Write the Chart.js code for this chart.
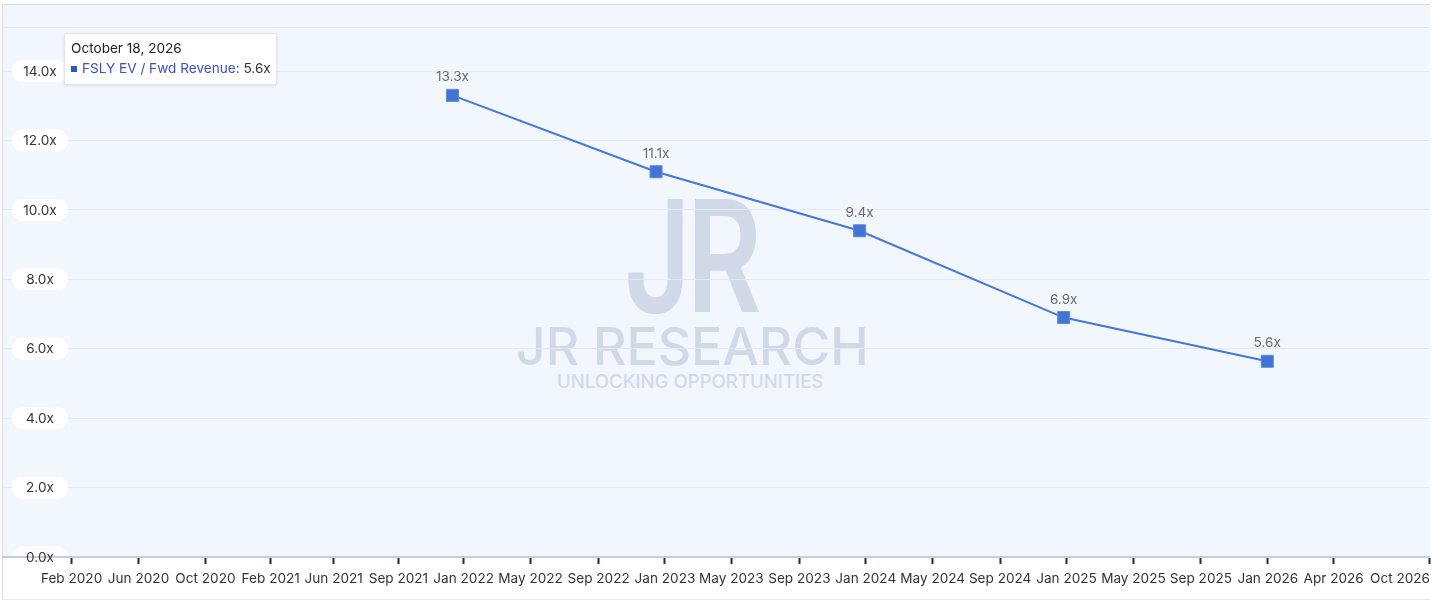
<!DOCTYPE html>
<html>
<head>
<meta charset="utf-8">
<script src="https://cdn.jsdelivr.net/npm/chart.js@4.4.1/dist/chart.umd.min.js"></script>
<style>
  html, body { margin:0; padding:0; background:#ffffff; }
  #wrap { position:relative; width:1436px; height:603px; overflow:hidden; font-family:Inter, "Noto Sans", sans-serif; }
  #frame { position:absolute; left:2px; top:4px; width:1428px; height:596px; border-top:1px solid #d9d9d9; border-left:1px solid #dedede; border-bottom:1px solid #e6e6e6; box-sizing:border-box; }
  #plotbg { position:absolute; left:3px; top:5px; width:1427px; height:551px; background:#f2f6fd; }
  #wm { position:absolute; left:0; top:0; width:1436px; height:603px; color:#d1d9e9; pointer-events:none; }
  #wm .logo { position:absolute; left:624px; top:178px; font-family:Inter, sans-serif; font-weight:600; font-size:156px; line-height:1; transform:scaleX(0.74); transform-origin:0 0; letter-spacing:-6px; }
  #wm .name { position:absolute; left:516px; top:321px; font-family:Inter, sans-serif; font-weight:500; font-size:51.7px; line-height:1; white-space:nowrap; }
  #wm .tag { position:absolute; left:557px; top:372px; font-family:Inter, sans-serif; font-weight:500; font-size:18.6px; line-height:1; white-space:nowrap; }
  canvas { position:absolute; left:0; top:0; }
  #tip { position:absolute; left:64px; top:33px; width:213px; height:52px; box-sizing:border-box; background:#ffffff; border:1px solid #e2e4ea; box-shadow:0 1px 3px rgba(0,0,0,0.10); border-radius:2px; font-size:13.6px; }
  #tip .t { position:absolute; left:6px; top:6px; color:#222; white-space:nowrap; }
  #tip .b { position:absolute; left:6px; top:26px; white-space:nowrap; color:#3e4fc4; }
  #tip .m { display:inline-block; width:6px; height:6px; background:#2357d4; margin-right:5px; vertical-align:1px; }
  #tip .v { color:#333; }
</style>
</head>
<body>
<div id="wrap">
  <div id="frame"></div>
  <div id="plotbg"></div>
  <div id="wm">
    <div class="logo">JR</div>
    <div class="name">JR RESEARCH</div>
    <div class="tag">UNLOCKING OPPORTUNITIES</div>
  </div>
  <canvas id="c" width="1436" height="603"></canvas>
  <div id="tip"><div class="t" id="tipTitle"></div><div class="b"><span class="m"></span><span id="tipName"></span> <span class="v" id="tipVal"></span></div></div>
</div>
<script>
// ---- data ----
const seriesName = 'FSLY EV / Fwd Revenue';
const pointDates = ['2022-01-01', '2023-01-01', '2024-01-01', '2025-01-01', '2026-01-01'];
const evFwdRevenue = [13.3, 11.1, 9.4, 6.9, 5.64];
const xTickDates = ['2020-02-18','2020-06-17','2020-10-15','2021-02-09','2021-06-02','2021-09-26','2022-01-21','2022-05-21','2022-09-20','2023-01-17','2023-05-16','2023-09-15','2024-01-12','2024-05-11','2024-09-09','2025-01-06','2025-05-06','2025-09-04','2026-01-02','2026-04-30','2026-10-18'];
const xTickLabels = ['Feb 2020','Jun 2020','Oct 2020','Feb 2021','Jun 2021','Sep 2021','Jan 2022','May 2022','Sep 2022','Jan 2023','May 2023','Sep 2023','Jan 2024','May 2024','Sep 2024','Jan 2025','May 2025','Sep 2025','Jan 2026','Apr 2026','Oct 2026'];
const xRange = ['2019-10-18', '2026-10-18'];
const yTickValues = [0, 2, 4, 6, 8, 10, 12, 14];
const yMax = 15.27;
const tooltipTitle = 'October 18, 2026';

const dayNum = s => Date.parse(s + 'T00:00:00Z') / 864e5;
const fmtX = v => v.toFixed(1) + 'x';

document.getElementById('tipTitle').textContent = tooltipTitle;
document.getElementById('tipName').textContent = seriesName + ':';
document.getElementById('tipVal').textContent = fmtX(evFwdRevenue[evFwdRevenue.length - 1]);

const FONT = 'Inter, "Noto Sans", sans-serif';
const FSIZE = 13.6;

const yPills = {
  id: 'yPills',
  beforeDatasetsDraw(chart) {
    const y = chart.scales.y, ctx = chart.ctx;
    ctx.save();
    yTickValues.forEach(v => {
      const py = y.getPixelForValue(v);
      ctx.fillStyle = v === 0 ? 'rgba(255,255,255,0.8)' : 'rgba(255,255,255,0.95)';
      ctx.beginPath();
      ctx.roundRect(12, py - 11, 56, 22, 11);
      ctx.fill();
    });
    ctx.restore();
  },
  afterDraw(chart) {
    const y = chart.scales.y, ctx = chart.ctx;
    ctx.save();
    ctx.font = FSIZE + 'px ' + FONT;
    ctx.textAlign = 'center';
    ctx.textBaseline = 'middle';
    ctx.fillStyle = '#333333';
    yTickValues.forEach(v => {
      ctx.fillText(fmtX(v), 40, y.getPixelForValue(v) + 0.5);
    });
    ctx.restore();
  }
};

const dataLabels = {
  id: 'dataLabels',
  afterDatasetsDraw(chart) {
    const ctx = chart.ctx, meta = chart.getDatasetMeta(0);
    ctx.save();
    ctx.font = FSIZE + 'px ' + FONT;
    ctx.fillStyle = '#6b6b6b';
    ctx.textAlign = 'center';
    ctx.textBaseline = 'middle';
    meta.data.forEach((pt, i) => {
      ctx.fillText(fmtX(evFwdRevenue[i]), pt.x, pt.y - 18);
    });
    ctx.restore();
  },
  afterDraw(chart) {
    const x = chart.scales.x, ctx = chart.ctx;
    const last = xTickDates.length - 1;
    ctx.save();
    ctx.font = FSIZE + 'px ' + FONT;
    ctx.fillStyle = '#333333';
    ctx.textAlign = 'right';
    ctx.textBaseline = 'middle';
    ctx.fillText(xTickLabels[last], x.getPixelForValue(dayNum(xTickDates[last])) + 1, x.top + 7 + 7 + FSIZE * 1.2 / 2);
    ctx.restore();
  }
};

new Chart(document.getElementById('c'), {
  type: 'line',
  data: {
    datasets: [{
      label: seriesName,
      data: pointDates.map((d, i) => ({ x: dayNum(d), y: evFwdRevenue[i] })),
      borderColor: '#4677d6',
      borderWidth: 2,
      tension: 0,
      pointStyle: 'rect',
      pointRadius: 8.5,
      pointBackgroundColor: '#4274d4',
      pointBorderColor: '#6189dc',
      pointBorderWidth: 1,
      fill: false
    }]
  },
  options: {
    responsive: false,
    animation: false,
    devicePixelRatio: 1,
    events: [],
    layout: { autoPadding: false, padding: { left: 3, right: 7, top: 27, bottom: 8.6 } },
    plugins: { legend: { display: false }, tooltip: { enabled: false } },
    scales: {
      x: {
        type: 'linear',
        min: dayNum(xRange[0]),
        max: dayNum(xRange[1]),
        afterBuildTicks: s => { s.ticks = xTickDates.map(d => ({ value: dayNum(d) })); },
        ticks: {
          autoSkip: false, maxRotation: 0, padding: 7,
          font: { family: FONT, size: FSIZE }, color: '#333333',
          callback: (v, i) => (i < xTickLabels.length - 1 ? xTickLabels[i] : '')
        },
        grid: { drawOnChartArea: false, drawTicks: true, tickLength: 7, tickColor: '#1f2b48', tickWidth: 2 },
        border: { display: true, color: '#c8ccd8', width: 2, z: 1 }
      },
      y: {
        type: 'linear',
        min: 0,
        max: yMax,
        afterBuildTicks: s => { s.ticks = yTickValues.concat([yMax]).map(v => ({ value: v })); },
        ticks: { display: false },
        grid: { color: '#e3e8f1', lineWidth: 1, drawTicks: false },
        border: { display: false }
      }
    }
  },
  plugins: [yPills, dataLabels]
});
</script>
</body>
</html>
